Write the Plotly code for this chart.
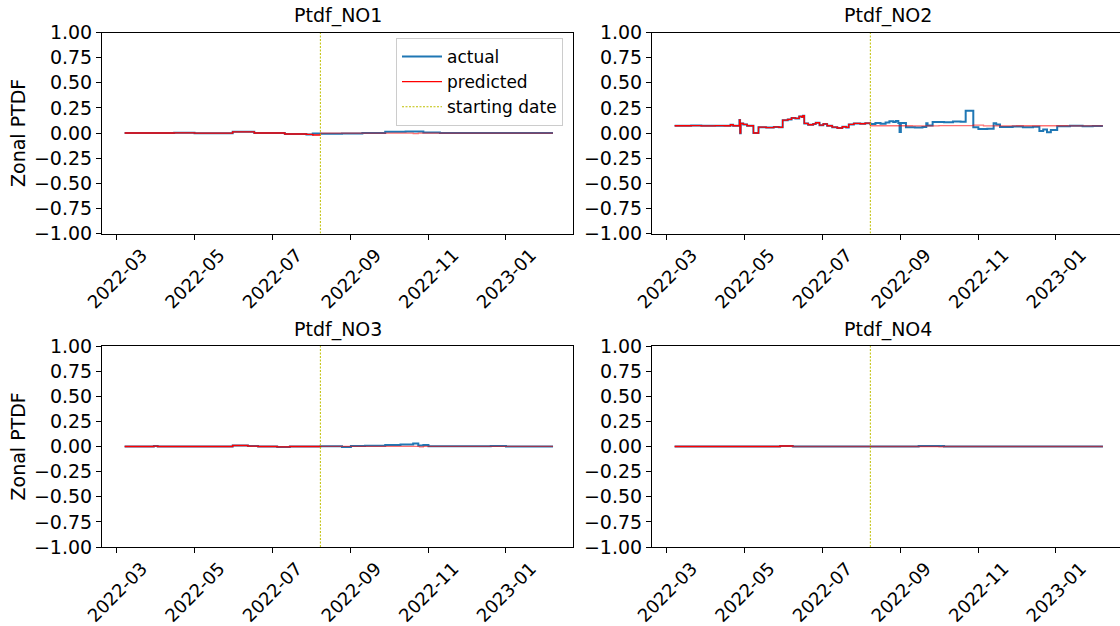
import plotly.graph_objects as go

# ---- data -------------------------------------------------------------
start_date = "2022-08-08"

no1_dates = ["2022-03-07", "2022-04-15", "2022-05-01", "2022-05-31", "2022-06-17",
             "2022-07-11", "2022-07-28", "2022-08-02", "2022-08-08", "2022-08-25",
             "2022-09-10", "2022-09-28", "2022-10-14", "2022-10-28", "2022-11-10",
             "2023-02-07"]
no1_actual = [0.000, 0.002, -0.002, 0.012, 0.000, -0.010, -0.014, -0.006, -0.008, -0.004,
              0.000, 0.012, 0.016, 0.004, 0.000, 0.000]
no1_pred_dates = ["2022-03-07", "2022-04-15", "2022-05-01", "2022-05-31", "2022-06-17",
                  "2022-07-11", "2022-07-28", "2022-08-02", "2022-08-08", "2022-10-20",
                  "2022-10-24", "2023-02-07"]
no1_pred = [0.000, 0.002, -0.002, 0.012, 0.000, -0.010, -0.014, -0.020, -0.002, -0.006,
            -0.001, -0.001]

no2_dates = ["2022-03-07", "2022-03-20", "2022-03-28", "2022-04-08", "2022-04-15",
             "2022-04-20", "2022-04-22", "2022-04-27", "2022-04-27 12:00", "2022-04-28",
             "2022-04-30", "2022-05-03", "2022-05-08", "2022-05-12", "2022-05-18",
             "2022-05-24", "2022-05-28", "2022-05-31", "2022-06-04", "2022-06-07",
             "2022-06-10", "2022-06-13", "2022-06-15", "2022-06-16", "2022-06-17",
             "2022-06-20", "2022-06-24", "2022-06-26", "2022-06-29", "2022-07-02",
             "2022-07-05", "2022-07-09", "2022-07-13", "2022-07-17", "2022-07-20",
             "2022-07-22", "2022-07-26", "2022-07-31", "2022-08-04", "2022-08-08",
             "2022-08-12", "2022-08-16", "2022-08-20", "2022-08-23", "2022-08-26",
             "2022-08-28", "2022-08-30", "2022-08-31", "2022-09-01", "2022-09-05",
             "2022-09-12", "2022-09-18", "2022-09-21", "2022-09-22", "2022-09-26",
             "2022-10-05", "2022-10-12", "2022-10-18", "2022-10-22", "2022-10-28",
             "2022-11-01", "2022-11-08", "2022-11-13", "2022-11-15", "2022-11-18",
             "2022-11-28", "2022-12-06", "2022-12-14", "2022-12-19", "2022-12-22",
             "2022-12-25", "2022-12-28", "2023-01-02", "2023-01-12", "2023-01-22",
             "2023-01-30", "2023-02-07"]
no2_actual = [0.072, 0.074, 0.071, 0.073, 0.072,
              0.082, 0.072, 0.130, -0.002, 0.095,
              0.085, 0.072, 0.000, 0.058, 0.054,
              0.060, 0.056, 0.128, 0.135, 0.150,
              0.145, 0.165, 0.158, 0.172, 0.095,
              0.082, 0.090, 0.102, 0.078, 0.090,
              0.072, 0.058, 0.050, 0.062, 0.055,
              0.085, 0.095, 0.092, 0.098, 0.090,
              0.100, 0.092, 0.105, 0.118, 0.110,
              0.120, 0.100, 0.010, 0.100, 0.058,
              0.055, 0.060, 0.098, 0.075, 0.110,
              0.108, 0.115, 0.112, 0.222, 0.058,
              0.040, 0.042, 0.098, 0.085, 0.060,
              0.064, 0.058, 0.062, 0.020, 0.035,
              0.008, 0.030, 0.068, 0.072, 0.066,
              0.070, 0.070]
no2_pred_dates = ["2022-03-07", "2022-03-20", "2022-03-28", "2022-04-08", "2022-04-15",
                  "2022-04-20", "2022-04-22", "2022-04-27", "2022-04-27 12:00", "2022-04-28",
                  "2022-04-30", "2022-05-03", "2022-05-08", "2022-05-12", "2022-05-18",
                  "2022-05-24", "2022-05-28", "2022-05-31", "2022-06-04", "2022-06-07",
                  "2022-06-10", "2022-06-13", "2022-06-15", "2022-06-16", "2022-06-17",
                  "2022-06-20", "2022-06-24", "2022-06-26", "2022-06-29", "2022-07-02",
                  "2022-07-05", "2022-07-09", "2022-07-13", "2022-07-17", "2022-07-20",
                  "2022-07-22", "2022-07-26", "2022-07-31", "2022-08-04", "2022-08-08",
                  "2022-09-10", "2022-10-01", "2022-10-28", "2022-11-05", "2022-12-01",
                  "2023-01-10", "2023-02-07"]
no2_pred = [0.072, 0.074, 0.071, 0.073, 0.072,
            0.082, 0.072, 0.130, -0.002, 0.095,
            0.085, 0.072, 0.000, 0.058, 0.054,
            0.060, 0.056, 0.128, 0.135, 0.150,
            0.145, 0.165, 0.158, 0.172, 0.095,
            0.082, 0.090, 0.102, 0.078, 0.090,
            0.072, 0.058, 0.050, 0.062, 0.055,
            0.085, 0.095, 0.092, 0.098, 0.072,
            0.070, 0.073, 0.078, 0.070, 0.072,
            0.070, 0.070]

no3_dates = ["2022-03-07", "2022-03-30", "2022-04-02", "2022-05-31", "2022-06-12",
             "2022-06-20", "2022-07-05", "2022-07-15", "2022-08-08", "2022-08-25",
             "2022-09-01", "2022-09-12", "2022-09-28", "2022-10-10", "2022-10-20",
             "2022-10-24", "2022-10-28", "2022-11-01", "2022-12-20", "2023-01-01",
             "2023-02-07"]
no3_actual = [0.000, 0.004, 0.000, 0.010, 0.004,
              0.000, -0.004, 0.000, 0.002, -0.004,
              0.004, 0.008, 0.016, 0.020, 0.030,
              0.010, 0.014, 0.002, 0.006, 0.000,
              0.000]
no3_pred_dates = ["2022-03-07", "2022-03-30", "2022-04-02", "2022-05-31", "2022-06-12",
                  "2022-06-20", "2022-07-05", "2022-07-15", "2022-08-08", "2022-10-25",
                  "2022-10-28", "2023-02-07"]
no3_pred = [0.000, 0.004, 0.000, 0.010, 0.004,
            0.000, -0.004, 0.000, 0.001, -0.003,
            0.001, 0.001]

no4_dates = ["2022-03-07", "2022-05-29", "2022-06-08", "2022-09-15", "2022-10-05",
             "2023-02-07"]
no4_actual = [0.000, 0.005, 0.000, 0.004, 0.000, 0.000]
no4_pred_dates = ["2022-03-07", "2022-05-29", "2022-06-08", "2022-10-01", "2022-10-04",
                  "2023-02-07"]
no4_pred = [0.000, 0.005, 0.000, -0.003, 0.000, 0.000]

panel_titles = ["Ptdf_NO1", "Ptdf_NO2", "Ptdf_NO3", "Ptdf_NO4"]
y_ticks = [-1.0, -0.75, -0.5, -0.25, 0.0, 0.25, 0.5, 0.75, 1.0]

panels = [
    (no1_dates, no1_actual, no1_pred_dates, no1_pred),
    (no2_dates, no2_actual, no2_pred_dates, no2_pred),
    (no3_dates, no3_actual, no3_pred_dates, no3_pred),
    (no4_dates, no4_actual, no4_pred_dates, no4_pred),
]

# ---- style ------------------------------------------------------------
FONT = "DejaVu Sans"
BLUE = "#1f77b4"
RED = "#ff0000"
YELLOW = "#bfbf00"
W, H = 1120, 626
FS = 19

# panel boxes in pixels: (left, right, top, bottom)
boxes = [(102, 573, 32.5, 233.5), (652, 1120, 32.5, 233.5),
         (102, 573, 346, 547), (652, 1120, 346, 547)]
x_ranges = [["2022-02-17 05:00", "2023-02-22 17:00"],
            ["2022-02-17 05:00", "2023-02-20 10:00"],
            ["2022-02-17 05:00", "2023-02-22 17:00"],
            ["2022-02-17 05:00", "2023-02-20 10:00"]]

fig = go.Figure()
layout = {}
annotations = []

for i, (d_act, v_act, d_pred, v_pred) in enumerate(panels):
    n = i + 1
    xa = "x" if n == 1 else f"x{n}"
    ya = "y" if n == 1 else f"y{n}"
    show_leg = (n == 1)

    fig.add_trace(go.Scatter(x=d_act, y=v_act, mode="lines", line_shape="hv",
                             line=dict(color=BLUE, width=2), name="actual",
                             legendgroup="actual", showlegend=show_leg,
                             xaxis=xa, yaxis=ya))
    # in-sample part of the prediction (up to the starting date)
    d_in = [d for d in d_pred if d[:10] <= start_date]
    v_in = v_pred[:len(d_in)]
    d_out = d_pred[len(d_in) - 1:]
    v_out = v_pred[len(d_in) - 1:]
    fig.add_trace(go.Scatter(x=d_in, y=v_in, mode="lines", line_shape="hv",
                             line=dict(color=RED, width=1.3), name="predicted",
                             legendgroup="predicted", showlegend=show_leg,
                             xaxis=xa, yaxis=ya))
    fig.add_trace(go.Scatter(x=d_out, y=v_out, mode="lines", line_shape="hv",
                             line=dict(color=RED, width=1.3), opacity=0.55,
                             name="predicted", legendgroup="predicted",
                             showlegend=False, xaxis=xa, yaxis=ya))
    fig.add_trace(go.Scatter(x=[start_date, start_date], y=[y_ticks[0], y_ticks[-1]],
                             mode="lines", line=dict(color=YELLOW, width=1, dash="2px,1.5px"),
                             name="starting date", legendgroup="start",
                             showlegend=show_leg, xaxis=xa, yaxis=ya))

    left, right, top, bottom = boxes[i]
    xdom = [left / W, min(right / W, 1.0)]
    ydom = [1 - bottom / H, 1 - top / H]
    axis_common = dict(showgrid=False, zeroline=False, showline=True, linecolor="black",
                       linewidth=1, ticks="outside", ticklen=5, tickwidth=1,
                       tickcolor="black", automargin=False)
    layout["xaxis" if n == 1 else f"xaxis{n}"] = dict(
        domain=xdom, anchor=ya, range=x_ranges[i], type="date",
        tick0="2022-03-01", dtick="M2", tickformat="%Y-%m", tickangle=-45,
        ticklabelshift=25, ticklabelstandoff=-2,
        tickfont=dict(family=FONT, size=18, color="black"),
        mirror=True, **axis_common)
    layout["yaxis" if n == 1 else f"yaxis{n}"] = dict(
        domain=ydom, anchor=xa, range=[-1, 1], tickvals=y_ticks, tickformat=".2f",
        tickfont=dict(family=FONT, size=FS, color="black"),
        mirror=(n % 2 == 1), **axis_common)

    annotations.append(dict(text=panel_titles[i], x=(left + (right if n % 2 else 1123)) / 2 / W,
                            y=ydom[1], xref="paper", yref="paper", xanchor="center",
                            yanchor="bottom", yshift=3, showarrow=False,
                            font=dict(family=FONT, size=FS, color="black")))
    if n % 2 == 1:
        annotations.append(dict(text="Zonal PTDF", x=18 / W, y=(ydom[0] + ydom[1]) / 2,
                                xref="paper", yref="paper", xanchor="center",
                                yanchor="middle", textangle=-90, showarrow=False,
                                font=dict(family=FONT, size=FS, color="black")))

fig.update_layout(
    width=W, height=H, margin=dict(l=0, r=0, t=0, b=0, autoexpand=False),
    paper_bgcolor="white", plot_bgcolor="white",
    font=dict(family=FONT, size=FS, color="black"),
    annotations=annotations,
    legend=dict(x=563 / W, y=1 - 38 / H, xanchor="right", yanchor="top",
                bgcolor="rgba(255,255,255,0.8)", bordercolor="#cccccc", borderwidth=1,
                font=dict(family=FONT, size=17, color="black"), tracegroupgap=0,
                itemwidth=40),
    **layout,
)

fig.write_html("out.html")
